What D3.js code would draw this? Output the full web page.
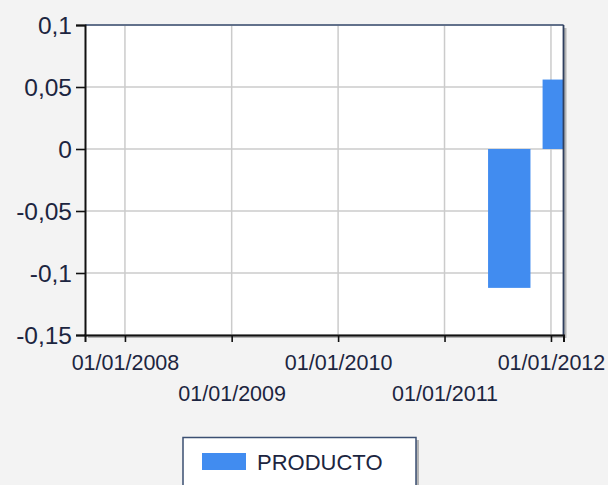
<!DOCTYPE html>
<html>
<head>
<meta charset="utf-8">
<script src="https://cdn.jsdelivr.net/npm/d3@7"></script>
<style>
  html, body { margin: 0; padding: 0; background: #f3f3f3; }
  svg { display: block; }
  text { font-family: "Liberation Sans", Arial, sans-serif; }
</style>
</head>
<body>
<svg id="chart" width="608" height="485"></svg>
<script>
// ---- data ----
const seriesName = "PRODUCTO";
const barDates = ["2011-08-11", "2012-02-14"];
const barValues = [-0.112, 0.056];
const yTickValues = [0.1, 0.05, 0, -0.05, -0.1, -0.15];
const xTickDates = ["2008-01-01", "2009-01-01", "2010-01-01", "2011-01-01", "2012-01-01"];
const xDomainDates = ["2007-08-17", "2012-02-13"];
const yDomain = [-0.15, 0.1];

// ---- layout ----
const W = 608, H = 485;
const plot = { left: 85, top: 25, right: 563.5, bottom: 335 };
const barColor = "#418CF0";
const textColor = "#1c2540";

const parse = d3.timeParse("%Y-%m-%d");
const svg = d3.select("#chart");

const x = d3.scaleTime()
  .domain(xDomainDates.map(parse))
  .range([plot.left, plot.right]);
const y = d3.scaleLinear()
  .domain(yDomain)
  .range([plot.bottom, plot.top]);

const locale = d3.formatLocale({ decimal: ",", thousands: ".", grouping: [3], currency: ["", ""] , minus: "-"});
const yFmt = v => locale.format("~g")(v);
const xFmt = d3.timeFormat("%d/%m/%Y");

// plot shadow
svg.append("rect")
  .attr("x", plot.left + 3).attr("y", plot.top + 3)
  .attr("width", plot.right - plot.left).attr("height", plot.bottom - plot.top)
  .attr("fill", "#b4b4b4");
// plot background
svg.append("rect")
  .attr("x", plot.left).attr("y", plot.top)
  .attr("width", plot.right - plot.left).attr("height", plot.bottom - plot.top)
  .attr("fill", "#ffffff");

// grid lines
const grid = svg.append("g");
grid.selectAll("line.vg").data(xTickDates.map(parse)).join("line")
  .attr("x1", d => x(d)).attr("x2", d => x(d))
  .attr("y1", plot.top).attr("y2", plot.bottom)
  .attr("stroke", "#cbcbcb").attr("stroke-width", 1.5);
grid.selectAll("line.hg").data(yTickValues).join("line")
  .attr("x1", plot.left).attr("x2", plot.right)
  .attr("y1", d => y(d)).attr("y2", d => y(d))
  .attr("stroke", "#cbcbcb").attr("stroke-width", 1.5);

// bars (clipped)
svg.append("clipPath").attr("id", "clip")
  .append("rect")
  .attr("x", plot.left).attr("y", plot.top)
  .attr("width", plot.right - plot.left).attr("height", plot.bottom - plot.top);
const barW = 42.4;
svg.append("g").attr("clip-path", "url(#clip)")
  .selectAll("rect").data(barDates.map((d, i) => ({ date: parse(d), value: barValues[i] })))
  .join("rect")
  .attr("x", d => x(d.date) - barW / 2)
  .attr("width", barW)
  .attr("y", d => y(Math.max(0, d.value)))
  .attr("height", d => Math.abs(y(d.value) - y(0)))
  .attr("fill", barColor);

// frame: top and right
svg.append("line")
  .attr("x1", plot.left).attr("x2", plot.right)
  .attr("y1", plot.top).attr("y2", plot.top)
  .attr("stroke", "#3b4f72").attr("stroke-width", 1.6);
svg.append("line")
  .attr("x1", plot.right).attr("x2", plot.right)
  .attr("y1", plot.top).attr("y2", plot.bottom)
  .attr("stroke", "#2f3f5e").attr("stroke-width", 1.8);

// y axis
const yAxis = d3.axisLeft(y).tickValues(yTickValues).tickFormat(yFmt).tickSize(9).tickPadding(4);
const gy = svg.append("g").attr("transform", `translate(${plot.left},0)`).call(yAxis);
gy.select(".domain").attr("stroke", "#111").attr("stroke-width", 2);
gy.selectAll(".tick line").attr("stroke", "#111").attr("stroke-width", 1.6);
gy.selectAll(".tick text")
  .attr("fill", textColor)
  .style("font-size", "24.5px")
  .attr("dy", "0.35em");

// x axis
const xAxis = d3.axisBottom(x).tickValues(xTickDates.map(parse)).tickFormat(xFmt).tickSize(7).tickPadding(0);
const gx = svg.append("g").attr("transform", `translate(0,${plot.bottom})`).call(xAxis);
gx.select(".domain").attr("stroke", "#111").attr("stroke-width", 2);
gx.selectAll(".tick line").attr("stroke", "#111").attr("stroke-width", 1.6);
gx.selectAll(".tick text")
  .attr("fill", textColor)
  .style("font-size", "21.5px")
  .attr("dy", 0)
  .attr("y", (d, i) => i % 2 === 0 ? 35 : 66);

// legend
const lg = svg.append("g");
lg.append("rect").attr("x", 186).attr("y", 440).attr("width", 233).attr("height", 70).attr("fill", "#b4b4b4");
lg.append("rect").attr("x", 183).attr("y", 437.5).attr("width", 233).attr("height", 70)
  .attr("fill", "#ffffff").attr("stroke", "#3b4f72").attr("stroke-width", 1.5);
lg.append("rect").attr("x", 202).attr("y", 453).attr("width", 44).attr("height", 17).attr("fill", barColor);
lg.append("text").attr("x", 257).attr("y", 470)
  .attr("fill", textColor).style("font-size", "22px").text(seriesName);
</script>
</body>
</html>
